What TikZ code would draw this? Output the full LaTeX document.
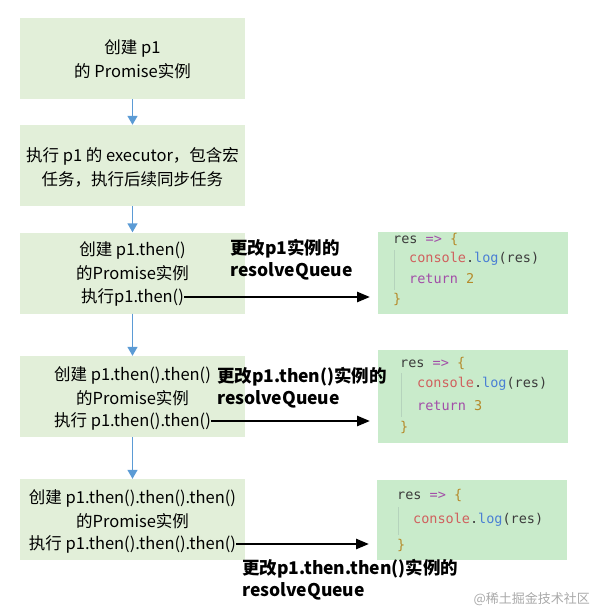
\documentclass[tikz,border=0pt]{standalone}
\usepackage{fontspec}
\setmainfont{Noto Sans CJK SC}
\newfontfamily\codefont{DejaVu Sans Mono}
\usepackage{tikz}
\usepackage{xcolor}
\usetikzlibrary{arrows.meta,positioning}
\definecolor{boxfill}{HTML}{E2EFD9}
\definecolor{codefill}{HTML}{C9EBCB}
\definecolor{flowblue}{HTML}{5B9BD5}
\definecolor{codegray}{HTML}{3C3C3C}
\definecolor{codepurple}{HTML}{A24EA8}
\definecolor{codered}{HTML}{D0605E}
\definecolor{codeblue}{HTML}{4A7FD4}
\definecolor{codegold}{HTML}{B58A2A}
\definecolor{guide}{HTML}{B5D3BC}
\definecolor{mark}{HTML}{A9A9A9}

\begin{document}
\begin{tikzpicture}[x=1pt,y=-1pt,
  procbox/.style={fill=boxfill,minimum width=225pt,minimum height=81pt,inner sep=0pt},
  boxtxt/.style={align=center,inner sep=0pt,font=\fontsize{16.5}{24}\selectfont},
  codebox/.style={fill=codefill,inner sep=0pt,anchor=north west,minimum width=190pt},
  codeln/.style={anchor=west,inner sep=0pt,text=codegray,font=\codefont\fontsize{13.5}{16}\selectfont},
  note/.style={anchor=north west,align=left,inner sep=0pt,font=\bfseries\fontsize{17.5}{22}\selectfont},
  flow/.style={-{Triangle[width=10pt,length=9pt]},draw=flowblue,fill=flowblue,line width=1.5pt},
  call/.style={-{Triangle[width=10pt,length=13pt]},line width=2.6pt,shorten >=8pt}]
\useasboundingbox (0,0) rectangle (591,608);

% left column
\node[procbox] (b1) at (132.5,58.5) {};
\node[boxtxt] (b1t) at (132.5,59) {创建 p1\\的 Promise实例};
\node[procbox] (b2) at (132.5,165.5) {};
\node[boxtxt] (b2t) at (132.5,167.5) {执行 p1 的 executor，包含宏\\任务，执行后续同步任务};
\node[procbox] (b3) at (132.5,273) {};
\node[boxtxt] (b3t) at (132.5,261.5) {创建 p1.then()\\的Promise实例};
\node[boxtxt] (b3r) at (132.5,297) {执行p1.then()};
\node[procbox] (b4) at (132.5,396.5) {};
\node[boxtxt] (b4t) at (132.5,386) {创建 p1.then().then()\\的Promise实例};
\node[boxtxt] (b4r) at (132.5,421) {执行 p1.then().then()};
\node[procbox] (b5) at (132.5,519.5) {};
\node[boxtxt] (b5t) at (132.5,509) {创建 p1.then().then().then()\\的Promise实例};
\node[boxtxt] (b5r) at (132.5,544) {执行 p1.then().then().then()};

\draw[flow] (b1) -- (b2);
\draw[flow] (b2) -- (b3);
\draw[flow] (b3) -- (b4);
\draw[flow] (b4) -- (b5);

% callbacks
\node[codebox,minimum height=82pt] (c1) at (378,232) {};
\draw[guide,line width=0.6pt] (394,250) -- (394,290);
\node[codeln] (c1a) at (393,239) {res \textcolor{codepurple}{=>} \textcolor{codegold}{\{}};
\node[codeln] (c1b) at (409,259) {\textcolor{codered}{console}.\textcolor{codeblue}{log}(res)};
\node[codeln] (c1c) at (409,279) {\textcolor{codepurple}{return} \textcolor{codegold}{2}};
\node[codeln] (c1d) at (393,299) {\textcolor{codegold}{\}}};

\node[codebox,minimum height=93pt] (c2) at (378,350) {};
\draw[guide,line width=0.6pt] (401,373) -- (401,417);
\node[codeln] (c2a) at (400,363) {res \textcolor{codepurple}{=>} \textcolor{codegold}{\{}};
\node[codeln] (c2b) at (417,384) {\textcolor{codered}{console}.\textcolor{codeblue}{log}(res)};
\node[codeln] (c2c) at (417,406) {\textcolor{codepurple}{return} \textcolor{codegold}{3}};
\node[codeln] (c2d) at (400,427) {\textcolor{codegold}{\}}};

\node[codebox,minimum height=80pt] (c3) at (377,480) {};
\draw[guide,line width=0.6pt] (398,507) -- (398,535);
\node[codeln] (c3a) at (397,495) {res \textcolor{codepurple}{=>} \textcolor{codegold}{\{}};
\node[codeln] (c3b) at (413,520) {\textcolor{codered}{console}.\textcolor{codeblue}{log}(res)};
\node[codeln] (c3d) at (397,545) {\textcolor{codegold}{\}}};

\draw[call] (b3r.east) -- (b3r.east -| c1.west);
\draw[call] (b4r.east) -- (b4r.east -| c2.west);
\draw[call] (b5r.east) -- (b5r.east -| c3.west);

\node[note] (n1) at (230,239) {更改p1实例的\\resolveQueue};
\node[note] (n2) at (217,367) {更改p1.then()实例的\\resolveQueue};
\node[note] (n3) at (242,559) {更改p1.then.then()实例的\\resolveQueue};

\node[anchor=east,inner sep=0pt,text=mark,font=\fontsize{13}{15}\selectfont] (wm) at (590,599) {@稀土掘金技术社区};
\end{tikzpicture}
\end{document}
